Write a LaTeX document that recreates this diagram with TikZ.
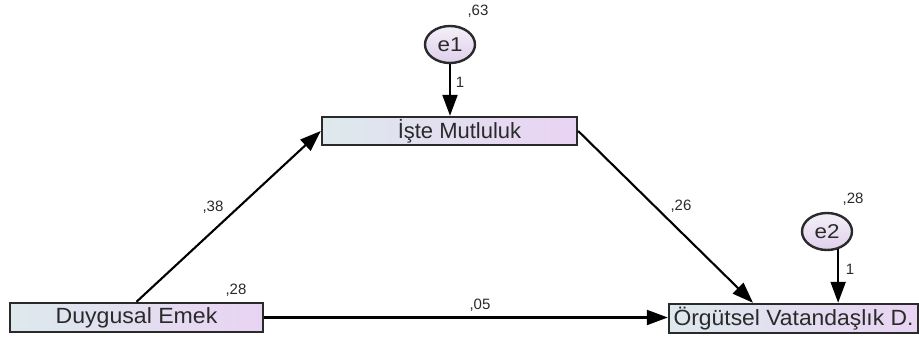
\documentclass[tikz,border=0pt]{standalone}
\usepackage{fontspec}
\setmainfont{Liberation Sans}
\usetikzlibrary{arrows.meta,shapes.geometric}
\definecolor{txt}{HTML}{2A2A2A}
\definecolor{bord}{HTML}{2A2A2A}
\definecolor{boxl}{HTML}{DDE9ED}
\definecolor{boxr}{HTML}{E9D3F3}
\definecolor{ellt}{HTML}{F3F0F7}
\definecolor{ellb}{HTML}{DFCFEC}
\begin{document}
\begin{tikzpicture}[x=1pt,y=-1pt,
  varbox/.style={draw=bord, line width=2.4pt, left color=boxl, right color=boxr,
    minimum height=29pt, inner sep=0pt, text=txt,
    font=\fontsize{22}{22}\selectfont},
  errnode/.style={ellipse, draw=bord, line width=2.4pt, top color=ellt, bottom color=ellb,
    minimum width=50pt, minimum height=37pt, inner sep=0pt, text=txt,
    font=\fontsize{20}{20}\selectfont},
  coef/.style={inner sep=0pt, text=txt, font=\fontsize{15}{15}\selectfont},
  conn/.style={line width=2.1pt, draw=black, -{Triangle[length=21pt,width=15pt]}}
]
\fill[white] (0,0) rectangle (919,338);
\useasboundingbox (0,0) rectangle (919,338);

% variables
\node[varbox, minimum width=253pt] (D) at (136.5,317.5) {\scalebox{1.05}[1]{Duygusal Emek}};
\node[varbox, minimum width=255pt, minimum height=28pt] (M) at (449.5,131) {\hspace*{20pt}İşte Mutluluk};
\node[varbox, minimum width=249pt] (O) at (793.5,318.5) {\scalebox{1.04}[1]{Örgütsel Vatandaşlık D.}};

% error terms
\node[errnode] (e1) at (450,44.5) {\scalebox{1.12}[1]{e1}};
\node[errnode] (e2) at (827,231.5) {\scalebox{1.12}[1]{e2}};

% coefficients
\node[coef] (c63) at (478,11) {,63};
\node[coef] (c1a) at (460,82) {1};
\node[coef] (c38) at (213,207) {,38};
\node[coef] (c26) at (681,206) {,26};
\node[coef] (c28a) at (236,290) {,28};
\node[coef] (c05) at (480,305) {,05};
\node[coef] (c28b) at (853,199) {,28};
\node[coef] (c1b) at (850,269) {1};

% paths
\draw[conn] (D.north) -- (M.west);
\draw[conn] (M.east) -- ([xshift=-40.5pt]O.north);
\draw[conn] (D.east) -- (D.east -| O.west);
\draw[conn] (e1.south) -- (e1.south |- M.north);
\draw[conn] (e2.-58) -- (e2.-58 |- O.north);
\end{tikzpicture}
\end{document}
